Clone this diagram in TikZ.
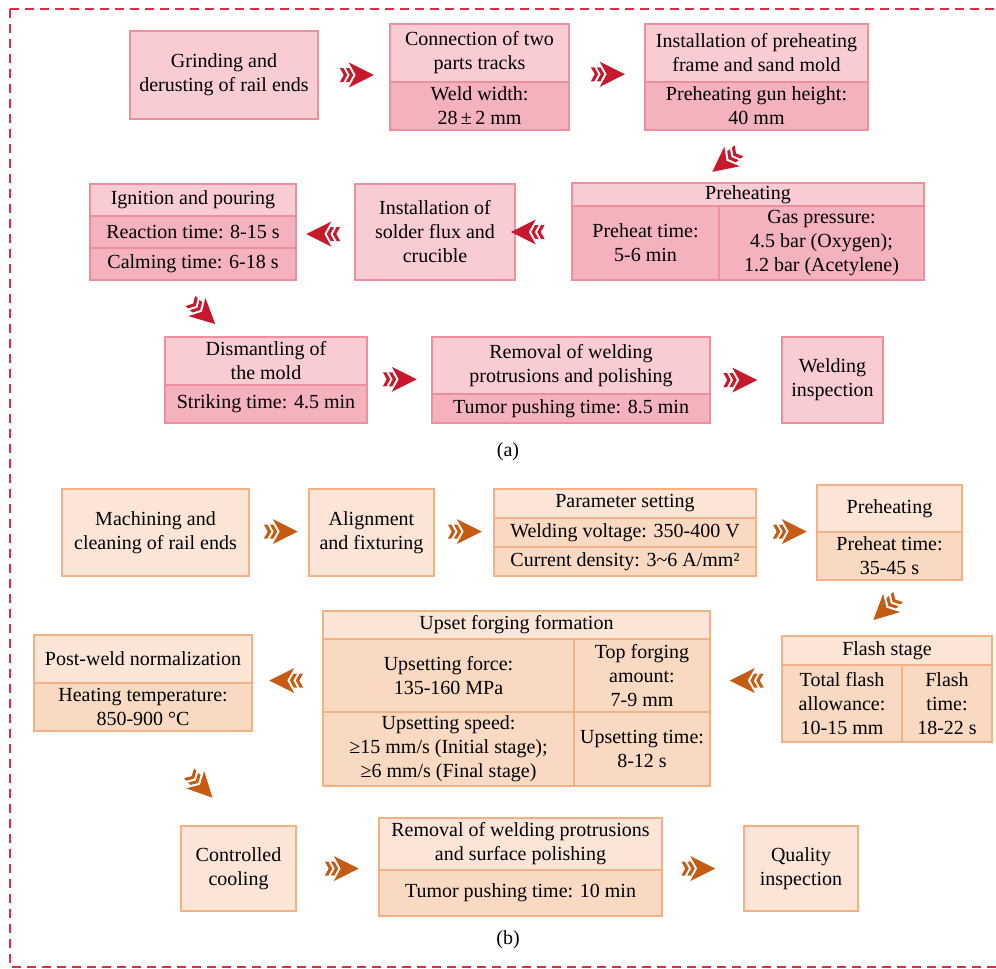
\documentclass[tikz,border=0pt]{standalone}
\usepackage{fontspec}
\setmainfont{Liberation Serif}
\usetikzlibrary{calc}

\definecolor{aLight}{RGB}{249,203,211}
\definecolor{aDark}{RGB}{243,178,188}
\definecolor{aLine}{RGB}{238,143,157}
\definecolor{aArrow}{RGB}{200,24,44}
\definecolor{bLight}{RGB}{252,229,214}
\definecolor{bDark}{RGB}{249,217,193}
\definecolor{bLine}{RGB}{244,178,132}
\definecolor{bArrow}{RGB}{198,92,20}
\definecolor{frameRed}{RGB}{221,45,66}

\begin{document}
\begin{tikzpicture}[x=1pt,y=-1pt]
\tikzset{
  cellbase/.style={draw,line width=1.5pt,align=center,inner sep=0pt,font=\fontsize{20}{24}\selectfont},
  stepa/.style={cellbase,draw=aLine,fill=aLight},
  parama/.style={cellbase,draw=aLine,fill=aDark},
  stepb/.style={cellbase,draw=bLine,fill=bLight},
  paramb/.style={cellbase,draw=bLine,fill=bDark},
  captext/.style={font=\fontsize{20}{24}\selectfont},
  frame/.style={draw=frameRed,line width=2pt,dash pattern=on 9pt off 6pt},
  pics/chev/.style={code={
    \fill[#1] (18,0) -- (-7,12.5) -- (0,0) -- (-7,-12.5) -- cycle;
    \fill[#1] (-2.5,0) -- (-6.4,7) -- (-9.9,7) -- (-6,0) -- (-9.9,-7) -- (-6.4,-7) -- cycle;
    \fill[#1] (-8.5,0) -- (-12.4,7) -- (-15.9,7) -- (-12,0) -- (-15.9,-7) -- (-12.4,-7) -- cycle;
  }}
}
\useasboundingbox (0,0) rectangle (996,969);
\draw[frame] (10,9) rectangle (999,967);

% (a) thermite welding
\node[stepa,minimum width=188,minimum height=88] (a_grind) at (224,75) {Grinding and\\derusting of rail ends};
\node[stepa,minimum width=179,minimum height=58] (a_conn) at (479.5,53) {Connection of two\\parts tracks};
\node[parama,minimum width=179,minimum height=48] (a_conn_w) at (479.5,106) {Weld width:\\28\,±\,2 mm};
\node[stepa,minimum width=223,minimum height=58] (a_frame) at (756.5,53) {Installation of preheating\\frame and sand mold};
\node[parama,minimum width=223,minimum height=48] (a_frame_h) at (756.5,106) {Preheating gun height:\\40 mm};
\node[stepa,minimum width=352,minimum height=23] (a_heat) at (748,194.5) {Preheating};
\node[parama,minimum width=147,minimum height=74] (a_heat_t) at (645.5,243) {Preheat time:\\5-6 min};
\node[parama,minimum width=205,minimum height=74] (a_heat_p) at (821.5,243) {Gas pressure:\\4.5 bar (Oxygen);\\1.2 bar (Acetylene)};
\node[stepa,minimum width=160,minimum height=96] (a_flux) at (435,232) {Installation of\\solder flux and\\crucible};
\node[stepa,minimum width=206,minimum height=32] (a_ignite) at (193,200) {Ignition and pouring};
\node[parama,minimum width=206,minimum height=32] (a_react) at (193,232) {Reaction time: 8-15 s};
\node[parama,minimum width=206,minimum height=32] (a_calm) at (193,264) {Calming time: 6-18 s};
\node[stepa,minimum width=202,minimum height=48] (a_mold) at (266,361) {Dismantling of\\the mold};
\node[parama,minimum width=202,minimum height=38] (a_strike) at (266,404) {Striking time: 4.5 min};
\node[stepa,minimum width=278,minimum height=57] (a_remove) at (571,365.5) {Removal of welding\\protrusions and polishing};
\node[parama,minimum width=278,minimum height=29] (a_remove_t) at (571,408.5) {Tumor pushing time: 8.5 min};
\node[stepa,minimum width=101,minimum height=86] (a_inspect) at (832.5,380) {Welding\\inspection};
\node[captext] (cap_a) at (508,452) {(a)};

\pic at ($(a_grind.east)+(37,0)$) {chev=aArrow};
\pic at ($(a_conn_w.north east)+(37,-7)$) {chev=aArrow};
\pic[rotate=218] at ($(a_frame_h.south)+(-30,30)$) {chev=aArrow};
\pic[rotate=180] at ($(a_flux.east)+(13,0)$) {chev=aArrow};
\pic[rotate=180] at ($(a_flux.west)+(-30,2)$) {chev=aArrow};
\pic[rotate=-43] at ($(a_calm.south)+(9,31)$) {chev=aArrow};
\pic at ($(a_strike.north east)+(31,-5)$) {chev=aArrow};
\pic at ($(a_inspect.west)+(-42,0)$) {chev=aArrow};

% (b) flash butt welding
\node[stepb,minimum width=187,minimum height=87] (b_mach) at (155.5,532.5) {Machining and\\cleaning of rail ends};
\node[stepb,minimum width=125,minimum height=87] (b_align) at (371.5,532.5) {Alignment\\and fixturing};
\node[stepb,minimum width=262,minimum height=29] (b_param) at (625,503.5) {Parameter setting};
\node[paramb,minimum width=262,minimum height=29] (b_volt) at (625,532.5) {Welding voltage: 350-400 V};
\node[paramb,minimum width=262,minimum height=29] (b_curr) at (625,561.5) {Current density: 3\textasciitilde6 A/mm²};
\node[stepb,minimum width=145,minimum height=47] (b_ph) at (889.5,508.5) {Preheating};
\node[paramb,minimum width=145,minimum height=48] (b_ph_t) at (889.5,556) {Preheat time:\\35-45 s};
\node[stepb,minimum width=210,minimum height=29] (b_flash) at (887,650.5) {Flash stage};
\node[paramb,minimum width=120,minimum height=77] (b_flash_a) at (842,703.5) {Total flash\\allowance:\\10-15 mm};
\node[paramb,minimum width=90,minimum height=77] (b_flash_t) at (947,703.5) {Flash\\time:\\18-22 s};
\node[stepb,minimum width=387,minimum height=28] (b_upset) at (516.5,625) {Upset forging formation};
\node[paramb,minimum width=251,minimum height=73] (b_up_force) at (448.5,675.5) {Upsetting force:\\135-160 MPa};
\node[paramb,minimum width=136,minimum height=73] (b_up_top) at (642,675.5) {Top forging\\amount:\\7-9 mm};
\node[paramb,minimum width=251,minimum height=74] (b_up_speed) at (448.5,749) {Upsetting speed:\\≥15 mm/s (Initial stage);\\≥6 mm/s (Final stage)};
\node[paramb,minimum width=136,minimum height=74] (b_up_time) at (642,749) {Upsetting time:\\8-12 s};
\node[stepb,minimum width=218,minimum height=48] (b_norm) at (143,659) {Post-weld normalization};
\node[paramb,minimum width=218,minimum height=48] (b_temp) at (143,707) {Heating temperature:\\850-900 °C};
\node[stepb,minimum width=115,minimum height=85] (b_cool) at (238.5,868.5) {Controlled\\cooling};
\node[stepb,minimum width=283,minimum height=52] (b_remove) at (520.5,844) {Removal of welding protrusions\\and surface polishing};
\node[paramb,minimum width=283,minimum height=46] (b_remove_t) at (520.5,893) {Tumor pushing time: 10 min};
\node[stepb,minimum width=114,minimum height=85] (b_quality) at (801,868.5) {Quality\\inspection};
\node[captext] (cap_b) at (508,940) {(b)};

\pic at ($(b_mach.east)+(30,-1)$) {chev=bArrow};
\pic at ($(b_align.east)+(29,-1)$) {chev=bArrow};
\pic at ($(b_volt.east)+(32,-1)$) {chev=bArrow};
\pic[rotate=223] at ($(b_ph_t.south)+(-3,27)$) {chev=bArrow};
\pic[rotate=180] at ($(b_up_top.east)+(37,5)$) {chev=bArrow};
\pic[rotate=180] at ($(b_up_force.west)+(-35,5)$) {chev=bArrow};
\pic[rotate=-46] at ($(b_temp.south)+(57,53)$) {chev=bArrow};
\pic at ($(b_cool.east)+(44,0)$) {chev=bArrow};
\pic at ($(b_quality.west)+(-46,0)$) {chev=bArrow};
\end{tikzpicture}
\end{document}
